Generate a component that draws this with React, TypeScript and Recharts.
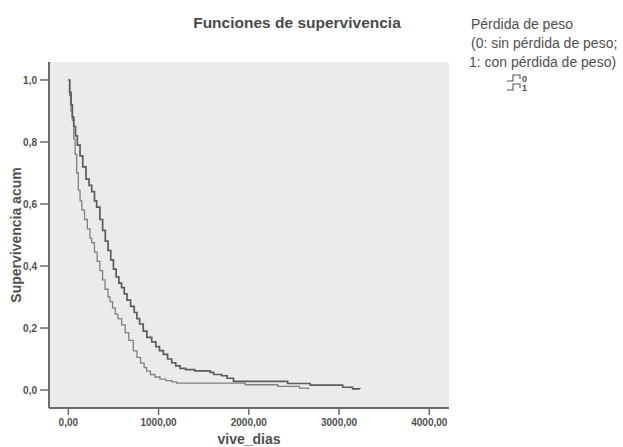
import React from 'react';
import { LineChart, Line, XAxis, YAxis, CartesianGrid } from 'recharts';

// Kaplan-Meier survival, group 0 (sin pérdida de peso)
const group0Days = [0, 15, 30, 45, 60, 80, 100, 130, 160, 196, 230, 260, 290, 314, 350, 380, 410, 440, 470, 500, 530, 560, 590, 620, 650, 690, 730, 760, 790, 830, 870, 924, 970, 1010, 1053, 1100, 1146, 1190, 1238, 1300, 1400, 1570, 1610, 1700, 1760, 1830, 2430, 2680, 3040, 3150, 3230];
const group0Surv = [1.0, 0.96, 0.92, 0.88, 0.85, 0.82, 0.79, 0.755, 0.72, 0.68, 0.66, 0.64, 0.61, 0.59, 0.55, 0.515, 0.48, 0.45, 0.42, 0.39, 0.365, 0.345, 0.33, 0.31, 0.29, 0.27, 0.25, 0.23, 0.213, 0.19, 0.17, 0.155, 0.14, 0.127, 0.115, 0.1, 0.088, 0.078, 0.07, 0.066, 0.062, 0.057, 0.05, 0.046, 0.038, 0.028, 0.021, 0.016, 0.009, 0.004, 0.003];

// group 1 (con pérdida de peso)
const group1Days = [0, 15, 30, 44, 60, 75, 93, 111, 130, 150, 180, 211, 240, 259, 290, 320, 350, 380, 407, 440, 462, 490, 520, 550, 591, 630, 670, 720, 760, 800, 840, 868, 910, 960, 1016, 1080, 1146, 1200, 1960, 2320, 2560, 2660];
const group1Surv = [1.0, 0.95, 0.9, 0.87, 0.81, 0.76, 0.7, 0.645, 0.61, 0.58, 0.55, 0.52, 0.49, 0.475, 0.445, 0.415, 0.385, 0.355, 0.325, 0.3, 0.285, 0.265, 0.245, 0.23, 0.21, 0.185, 0.16, 0.126, 0.105, 0.087, 0.072, 0.061, 0.05, 0.042, 0.035, 0.03, 0.026, 0.022, 0.017, 0.012, 0.006, 0.002];

const xTicks = [0, 1000, 2000, 3000, 4000];
const yTicks = [0, 0.2, 0.4, 0.6, 0.8, 1.0];
const legendTitle = ['Pérdida de peso', '(0: sin pérdida de peso;', '1: con pérdida de peso)'];
const legendKeys = ['0', '1'];

const data0 = group0Days.map((t, i) => ({ t, s: group0Surv[i] }));
const data1 = group1Days.map((t, i) => ({ t, s: group1Surv[i] }));

const FONT = '"Liberation Sans", Arial, sans-serif';
const AXIS = '#6c6c6c';
const TEXT = '#505050';

const fmtX = (v: number) => v.toFixed(2).replace('.', ',');
const fmtY = (v: number) => v.toFixed(1).replace('.', ',');

export default function App() {
  const tickStyle = { fontSize: 10, fontWeight: 'bold', fill: TEXT, fontFamily: FONT };
  return (
    <div style={{ position: 'absolute', left: 0, top: 0, width: 623, height: 447, background: '#fff' }}>
      <LineChart width={623} height={447} margin={{ top: 62, right: 174, bottom: 0, left: 0 }}>
        <CartesianGrid horizontal={false} vertical={false} fill="#eaebec" />
        <XAxis
          dataKey="t"
          type="number"
          domain={[-214, 4218]}
          ticks={xTicks}
          allowDataOverflow
          height={39}
          tickFormatter={fmtX}
          axisLine={{ stroke: AXIS, strokeWidth: 2 }}
          tickLine={{ stroke: AXIS, strokeWidth: 1.5 }}
          tickSize={7}
          tickMargin={4}
          tick={tickStyle}
          label={{ value: 'vive_dias', position: 'insideBottom', offset: 3, style: { fontSize: 14, fontWeight: 'bold', fill: TEXT, fontFamily: FONT } }}
        />
        <XAxis
          xAxisId="top"
          orientation="top"
          type="number"
          domain={[0, 1]}
          height={0}
          tick={false}
          tickLine={false}
          axisLine={{ stroke: AXIS, strokeWidth: 2 }}
        />
        <YAxis
          type="number"
          domain={[-0.058, 1.058]}
          ticks={yTicks}
          allowDataOverflow
          width={49}
          tickFormatter={fmtY}
          axisLine={{ stroke: AXIS, strokeWidth: 2 }}
          tickLine={{ stroke: AXIS, strokeWidth: 1.5 }}
          tickSize={9}
          tickMargin={3}
          tick={tickStyle}
          label={{ value: 'Supervivencia acum', angle: -90, position: 'center', dx: -8, style: { fontSize: 14, fontWeight: 'bold', fill: TEXT, fontFamily: FONT } }}
        />
        <YAxis
          yAxisId="right"
          orientation="right"
          type="number"
          domain={[0, 1]}
          width={0}
          tick={false}
          tickLine={false}
          axisLine={{ stroke: AXIS, strokeWidth: 2 }}
        />
        <Line data={data1} dataKey="s" type="stepAfter" stroke="#808080" strokeWidth={1.3} dot={false} isAnimationActive={false} />
        <Line data={data0} dataKey="s" type="stepAfter" stroke="#5c5c5c" strokeWidth={1.7} dot={false} isAnimationActive={false} />
      </LineChart>
      <svg width={623} height={447} style={{ position: 'absolute', left: 0, top: 0, pointerEvents: 'none' }}>
        <text x={297} y={28} textAnchor="middle" fontSize={15.5} fontWeight="bold" fill="#4a4a4a" fontFamily={FONT}>
          Funciones de supervivencia
        </text>
        {legendTitle.map((line, i) => (
          <text key={line} x={i === 2 ? 469 : 471} y={29 + i * 19} fontSize={14} fill={TEXT} fontFamily={FONT}>
            {line}
          </text>
        ))}
        {legendKeys.map((k, i) => {
          const cy = 78 + i * 9;
          return (
            <g key={k}>
              <path d={`M507,${cy + 3} H513 V${cy - 3} H520 V${cy + 1}`} fill="none" stroke="#555" strokeWidth={1.1} />
              <text x={522} y={cy + 3.5} fontSize={9} fontWeight="bold" fill={TEXT} fontFamily={FONT}>
                {k}
              </text>
            </g>
          );
        })}
      </svg>
    </div>
  );
}
